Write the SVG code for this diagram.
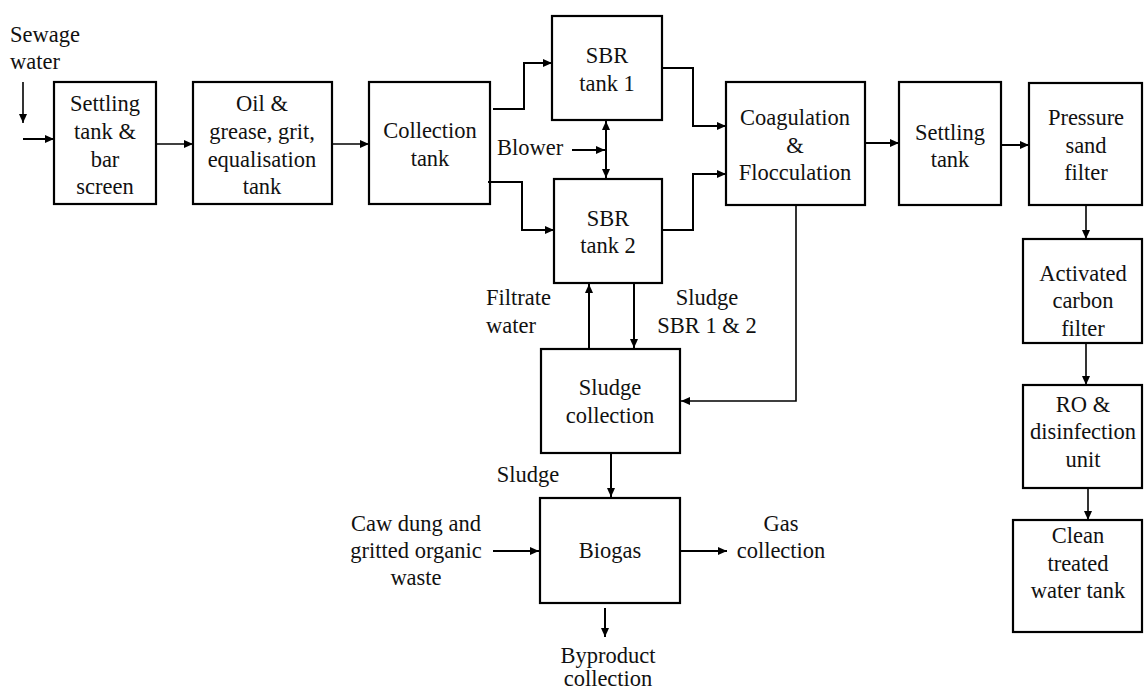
<svg xmlns="http://www.w3.org/2000/svg" width="1144" height="691" viewBox="0 0 1144 691">
<style>
.box{fill:#fff;stroke:#000;stroke-width:2.2}
text{font-family:"Liberation Serif","Times New Roman",serif;font-size:22.5px;fill:#111;text-anchor:middle}
.l{text-anchor:start}
.c{fill:none;stroke:#000;stroke-width:2}
.t{fill:none;stroke:#000;stroke-width:1.6}
</style>
<defs>
<marker id="a" markerUnits="userSpaceOnUse" markerWidth="10" markerHeight="10" refX="9" refY="4" orient="auto">
<path d="M0,0 L9,4 L0,8 z" fill="#000"/>
</marker>
<marker id="as" markerUnits="userSpaceOnUse" markerWidth="10" markerHeight="10" refX="9" refY="4" orient="auto-start-reverse">
<path d="M0,0 L9,4 L0,8 z" fill="#000"/>
</marker>
</defs>
<g id="nodes">
<g id="settling1"><rect class="box" x="54" y="82" width="102" height="122"/><text x="105" y="111">Settling</text><text x="105" y="139">tank &amp;</text><text x="105" y="167">bar</text><text x="105" y="194">screen</text></g>
<g id="oil"><rect class="box" x="193" y="82" width="139" height="122"/><text x="262" y="111">Oil &amp;</text><text x="262" y="139">grease, grit,</text><text x="262" y="167">equalisation</text><text x="262" y="194">tank</text></g>
<g id="collection"><rect class="box" x="369" y="82" width="121" height="122"/><text x="430" y="138">Collection</text><text x="430" y="166">tank</text></g>
<g id="sbr1"><rect class="box" x="552" y="16" width="110" height="104"/><text x="607" y="63">SBR</text><text x="607" y="91">tank 1</text></g>
<g id="sbr2"><rect class="box" x="554" y="179" width="108" height="104"/><text x="608" y="226">SBR</text><text x="608" y="253">tank 2</text></g>
<g id="coag"><rect class="box" x="726" y="82" width="139" height="123"/><text x="795" y="125">Coagulation</text><text x="795" y="153">&amp;</text><text x="795" y="180">Flocculation</text></g>
<g id="settling2"><rect class="box" x="899" y="82" width="102" height="123"/><text x="950" y="140">Settling</text><text x="950" y="167">tank</text></g>
<g id="pressure"><rect class="box" x="1029" y="83" width="113" height="122"/><text x="1086" y="125">Pressure</text><text x="1086" y="153">sand</text><text x="1086" y="180">filter</text></g>
<g id="carbon"><rect class="box" x="1023" y="239" width="119" height="104"/><text x="1083" y="281">Activated</text><text x="1083" y="308">carbon</text><text x="1083" y="336">filter</text></g>
<g id="ro"><rect class="box" x="1023" y="385" width="119" height="103"/><text x="1083" y="412">RO &amp;</text><text x="1083" y="439">disinfection</text><text x="1083" y="467">unit</text></g>
<g id="clean"><rect class="box" x="1013" y="520" width="129" height="112"/><text x="1078" y="543">Clean</text><text x="1078" y="571">treated</text><text x="1078" y="598">water tank</text></g>
<g id="sludgecol"><rect class="box" x="541" y="349" width="139" height="104"/><text x="610" y="395">Sludge</text><text x="610" y="423">collection</text></g>
<g id="biogas"><rect class="box" x="540" y="498" width="140" height="105"/><text x="610" y="558">Biogas</text></g>
</g>
<g id="labels">
<text class="l" x="10" y="42">Sewage</text><text class="l" x="10" y="69">water</text>
<text class="l" x="497" y="155">Blower</text>
<text class="l" x="486" y="305">Filtrate</text><text class="l" x="486" y="333">water</text>
<text x="707" y="305">Sludge</text><text x="707" y="333">SBR 1 &amp; 2</text>
<text x="528" y="482">Sludge</text>
<text x="416" y="531">Caw dung and</text><text x="416" y="558">gritted organic</text><text x="416" y="585">waste</text>
<text x="781" y="531">Gas</text><text x="781" y="558">collection</text>
<text x="608" y="663">Byproduct</text><text x="608" y="686">collection</text>
</g>
<g id="connectors">
<path class="t" d="M23,82 V123" marker-end="url(#a)"/>
<path class="c" d="M23,139 H54" marker-end="url(#a)"/>
<path class="t" d="M156,144 H193" marker-end="url(#a)"/>
<path class="t" d="M332,144 H369" marker-end="url(#a)"/>
<path class="c" d="M493,109 H524 V63 H552" marker-end="url(#a)"/>
<path class="c" d="M488,182 H522 V230 H554" marker-end="url(#a)"/>
<path class="c" d="M662,68 H693 V126 H726" marker-end="url(#a)"/>
<path class="c" d="M662,230 H693 V174 H726" marker-end="url(#a)"/>
<path class="c" d="M572,150 H605" marker-end="url(#a)"/>
<path class="c" d="M606,121 V178" marker-start="url(#as)" marker-end="url(#as)"/>
<path class="c" d="M865,143 H899" marker-end="url(#a)"/>
<path class="c" d="M1001,145 H1029" marker-end="url(#a)"/>
<path class="t" d="M1086,205 V239" marker-end="url(#a)"/>
<path class="t" d="M1086,343 V385" marker-end="url(#a)"/>
<path class="t" d="M1088,488 V520" marker-end="url(#a)"/>
<path class="c" d="M589,349 V284" marker-end="url(#a)"/>
<path class="c" d="M634,283 V348" marker-end="url(#a)"/>
<path class="t" stroke="#444" d="M796,205 V401 H681" marker-end="url(#a)"/>
<path class="c" d="M611,453 V497" marker-end="url(#a)"/>
<path class="c" d="M493,551 H539" marker-end="url(#a)"/>
<path class="c" d="M680,551 H727" marker-end="url(#a)"/>
<path class="c" d="M605,608 V637" marker-end="url(#a)"/>
</g>
</svg>
